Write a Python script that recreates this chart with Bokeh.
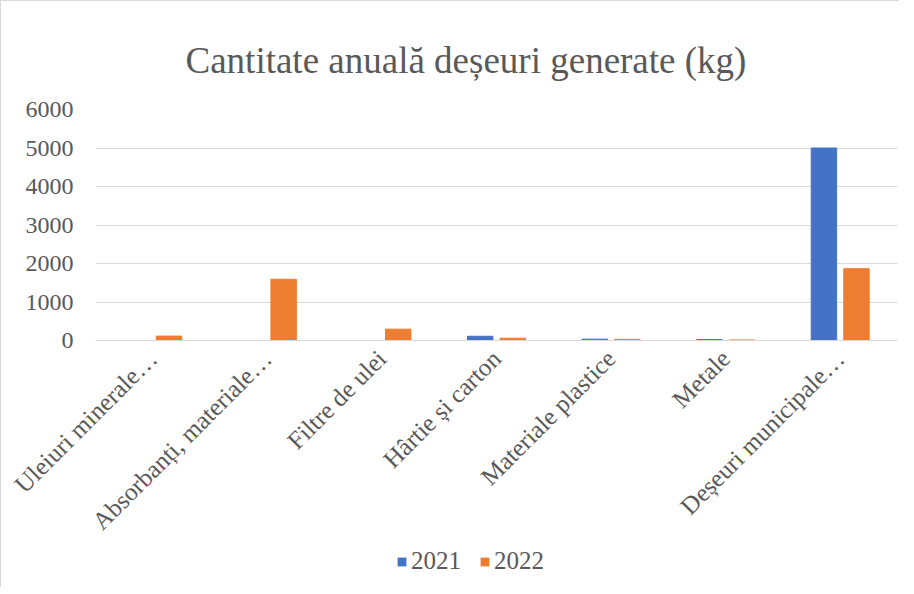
from bokeh.plotting import figure
from bokeh.layouts import column
from bokeh.models import ColumnDataSource, FactorRange, Legend, LegendItem, Range1d, Title
from bokeh.transform import dodge
from bokeh.embed import file_html
from bokeh.resources import INLINE
import math

categories = ["Uleiuri minerale…", "Absorbanți, materiale…", "Filtre de ulei",
              "Hârtie și carton", "Materiale plastice", "Metale", "Deșeuri municipale…"]
years = ["2021", "2022"]
values_2021 = [0, 0, 0, 110, 35, 25, 5000]
values_2022 = [115, 1590, 295, 60, 30, 15, 1865]
y_ticks = [0, 1000, 2000, 3000, 4000, 5000, 6000]
colors = ["#4472C4", "#ED7D31"]

source = ColumnDataSource(dict(cat=categories, v2021=values_2021, v2022=values_2022))

FONT = "serif"
GREY = "#595959"

p = figure(x_range=FactorRange(*categories), y_range=Range1d(0, 6000),
           width=898, height=546, output_backend="svg", toolbar_location=None,
           min_border_left=94, min_border_right=2, min_border_top=108, min_border_bottom=206)

title = Title(text="Cantitate anuală deșeuri generate (kg)", align="left",
              text_font=FONT, text_font_size="37px", text_color=GREY,
              text_font_style="normal", standoff=58, offset=90)
p.add_layout(title, "above")
p.title.visible = False

p.vbar(x=dodge("cat", -0.142, range=p.x_range), top="v2021", width=0.222,
       source=source, fill_color=colors[0], line_color=colors[0])
p.vbar(x=dodge("cat", 0.142, range=p.x_range), top="v2022", width=0.222,
       source=source, fill_color=colors[1], line_color=colors[1])

p.outline_line_color = None
p.xgrid.grid_line_color = None
p.ygrid.grid_line_color = "#d9d9d9"
p.ygrid.ticker = y_ticks
p.yaxis.ticker = y_ticks
p.yaxis.axis_line_color = None
p.yaxis.major_tick_line_color = None
p.yaxis.minor_tick_line_color = None
p.yaxis.major_label_text_font = FONT
p.yaxis.major_label_text_font_size = "24px"
p.yaxis.major_label_text_color = GREY
p.yaxis.major_label_standoff = 16

p.xaxis.axis_line_color = "#d9d9d9"
p.xaxis.major_tick_line_color = None
p.xaxis.minor_tick_line_color = None
p.xaxis.major_label_orientation = math.pi / 4
p.xaxis.major_label_text_font = FONT
p.xaxis.major_label_text_font_size = "25px"
p.xaxis.major_label_text_color = GREY
p.xaxis.major_label_standoff = 8
p.x_range.range_padding = 0
p.x_range.group_padding = 0

# legend strip (swatches only; zero-size glyphs)
q = figure(width=898, height=40, output_backend="svg", toolbar_location=None,
           x_range=Range1d(0, 1), y_range=Range1d(0, 1),
           x_axis_location=None, y_axis_location=None,
           min_border_left=0, min_border_right=0, min_border_top=0, min_border_bottom=0)
q.grid.grid_line_color = None
q.outline_line_color = None
s1 = q.vbar(x=[0.5], top=[0], bottom=[0], width=0, fill_color=colors[0], line_color=None)
s2 = q.vbar(x=[0.5], top=[0], bottom=[0], width=0, fill_color=colors[1], line_color=None)
legend = Legend(items=[LegendItem(label=years[0], renderers=[s1]),
                       LegendItem(label=years[1], renderers=[s2])],
                orientation="horizontal", location=(301, 12),
                label_text_font=FONT, label_text_font_size="25px", label_text_color=GREY,
                glyph_width=11, glyph_height=11, spacing=18, label_standoff=4,
                padding=2, margin=0,
                border_line_color=None, background_fill_alpha=0)
q.add_layout(legend, "center")

layout = column(p, q, spacing=0)
layout.styles = {"border-left": "1px solid #d9d9d9", "border-top": "1px solid #d9d9d9"}

open("out.html", "w").write(file_html(layout, INLINE))
